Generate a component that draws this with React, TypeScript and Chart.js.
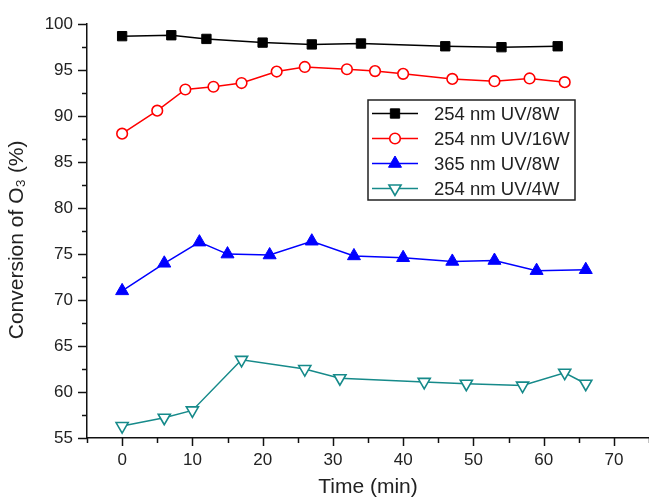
import React, { useEffect, useRef } from "react";
import { Chart, registerables } from "chart.js";

Chart.register(...registerables);

// ---- data ----
const labels = ["254 nm UV/8W", "254 nm UV/16W", "365 nm UV/8W", "254 nm UV/4W"];

const time8W = [0, 7, 12, 20, 27, 34, 46, 54, 62];
const conv8W = [98.7, 98.8, 98.4, 98.0, 97.8, 97.9, 97.6, 97.5, 97.6];

const time16W = [0, 5, 9, 13, 17, 22, 26, 32, 36, 40, 47, 53, 58, 63];
const conv16W = [88.1, 90.6, 92.9, 93.2, 93.6, 94.85, 95.35, 95.1, 94.9, 94.6, 94.05, 93.8, 94.1, 93.7];

const time365 = [0, 6, 11, 15, 21, 27, 33, 40, 47, 53, 59, 66];
const conv365 = [71.0, 74.0, 76.3, 75.0, 74.9, 76.4, 74.8, 74.6, 74.2, 74.3, 73.2, 73.3];

const time4W = [0, 6, 10, 17, 26, 31, 43, 49, 57, 63, 66];
const conv4W = [56.3, 57.2, 58.0, 63.5, 62.5, 61.5, 61.1, 60.9, 60.7, 62.1, 60.9];

const xMin = -5, xMax = 75, xStep = 5;
const yMin = 55, yMax = 100, yStep = 2.5;

const FONT = "'Liberation Sans', Arial, sans-serif";

const pts = (xs: number[], ys: number[]) => xs.map((x, i) => ({ x, y: ys[i] }));

const tickPlugin = {
  id: "minorTicks",
  afterDraw(chart: any) {
    const { ctx, chartArea } = chart;
    const xs = chart.scales.x;
    const ys = chart.scales.y;
    ctx.save();
    ctx.strokeStyle = "#111";
    ctx.lineWidth = 1.5;
    for (let v = xMin; v <= xMax + 1e-9; v += xStep) {
      const px = Math.round(xs.getPixelForValue(v)) + 0.5;
      const len = Math.abs(v % 10) < 1e-9 ? 8 : 5;
      ctx.beginPath();
      ctx.moveTo(px, chartArea.bottom);
      ctx.lineTo(px, chartArea.bottom + len);
      ctx.stroke();
    }
    for (let v = yMin; v <= yMax + 1e-9; v += yStep) {
      const py = Math.round(ys.getPixelForValue(v)) + 0.5;
      const len = Math.abs(v % 5) < 1e-9 ? 9 : 5;
      ctx.beginPath();
      ctx.moveTo(chartArea.left, py);
      ctx.lineTo(chartArea.left - len, py);
      ctx.stroke();
    }
    ctx.restore();
  },
};

function drawMarker(ctx: CanvasRenderingContext2D, style: string, r: number, rotDeg: number, x: number, y: number) {
  ctx.beginPath();
  if (style === "rect") {
    const s = Math.SQRT1_2 * r;
    ctx.rect(x - s, y - s, 2 * s, 2 * s);
  } else if (style === "circle") {
    ctx.arc(x, y, r, 0, Math.PI * 2);
  } else if (style === "triangle") {
    let rad = (rotDeg * Math.PI) / 180;
    ctx.moveTo(x + Math.sin(rad) * r, y - Math.cos(rad) * r);
    rad += (2 * Math.PI) / 3;
    ctx.lineTo(x + Math.sin(rad) * r, y - Math.cos(rad) * r);
    rad += (2 * Math.PI) / 3;
    ctx.lineTo(x + Math.sin(rad) * r, y - Math.cos(rad) * r);
    ctx.closePath();
  }
  ctx.fill();
  ctx.stroke();
}

const legendPlugin = {
  id: "boxLegend",
  afterDraw(chart: any) {
    const { ctx } = chart;
    const left = 368, top = 100, w = 207, h = 100, rowH = 25;
    ctx.save();
    ctx.fillStyle = "#fff";
    ctx.fillRect(left, top, w, h);
    ctx.strokeStyle = "#222";
    ctx.lineWidth = 1.5;
    ctx.strokeRect(left, top, w, h);
    chart.data.datasets.forEach((ds: any, i: number) => {
      const cy = top + 13.5 + i * rowH;
      ctx.strokeStyle = ds.borderColor;
      ctx.lineWidth = ds.borderWidth;
      ctx.beginPath();
      ctx.moveTo(left + 4, cy);
      ctx.lineTo(left + 50, cy);
      ctx.stroke();
      ctx.fillStyle = ds.pointBackgroundColor;
      ctx.strokeStyle = ds.borderColor;
      ctx.lineWidth = ds.pointBorderWidth;
      drawMarker(ctx, ds.pointStyle, ds.pointRadius, ds.pointRotation || 0, left + 27, cy);
      ctx.fillStyle = "#222";
      ctx.font = `18.5px ${FONT}`;
      ctx.textBaseline = "middle";
      ctx.textAlign = "left";
      ctx.fillText(ds.label, left + 66, cy + 1);
    });
    ctx.restore();
  },
};

export default function App() {
  const ref = useRef<HTMLCanvasElement>(null);
  useEffect(() => {
    if (!ref.current) return;
    const chart = new Chart(ref.current, {
      type: "scatter",
      data: {
        datasets: [
          {
            label: labels[0],
            data: pts(time8W, conv8W),
            showLine: true,
            borderColor: "#000000",
            backgroundColor: "#000000",
            pointBackgroundColor: "#000000",
            borderWidth: 1.5,
            pointBorderWidth: 1,
            pointStyle: "rect",
            pointRadius: 6.6,
          },
          {
            label: labels[1],
            data: pts(time16W, conv16W),
            showLine: true,
            borderColor: "#ff0000",
            backgroundColor: "#ffffff",
            pointBackgroundColor: "#ffffff",
            borderWidth: 1.5,
            pointBorderWidth: 1.6,
            pointStyle: "circle",
            pointRadius: 5.3,
          },
          {
            label: labels[2],
            data: pts(time365, conv365),
            showLine: true,
            borderColor: "#0000ff",
            backgroundColor: "#0000ff",
            pointBackgroundColor: "#0000ff",
            borderWidth: 1.5,
            pointBorderWidth: 1,
            pointStyle: "triangle",
            pointRadius: 7.5,
          },
          {
            label: labels[3],
            data: pts(time4W, conv4W),
            showLine: true,
            borderColor: "#168a8a",
            backgroundColor: "#ffffff",
            pointBackgroundColor: "#ffffff",
            borderWidth: 1.5,
            pointBorderWidth: 1.6,
            pointStyle: "triangle",
            pointRotation: 180,
            pointRadius: 7,
          },
        ] as any,
      },
      options: {
        animation: false,
        responsive: true,
        maintainAspectRatio: false,
        layout: { autoPadding: false, padding: { top: 23, left: 0, right: 0, bottom: 0 } },
        plugins: { legend: { display: false }, tooltip: { enabled: false } },
        scales: {
          x: {
            type: "linear",
            min: xMin,
            max: xMax,
            afterFit: (s: any) => { s.height = 59; s.paddingRight = 0; s.paddingLeft = 0; },
            ticks: {
              stepSize: xStep,
              autoSkip: false,
              maxRotation: 0,
              padding: 12,
              color: "#222",
              font: { family: FONT, size: 17 },
              callback: (v: any) => (Math.abs(v % 10) < 1e-9 ? String(v) : ""),
            },
            grid: { display: true, drawOnChartArea: false, drawTicks: false },
            border: { display: true, color: "#111", width: 1.5 },
            title: {
              display: true,
              text: "Time (min)",
              color: "#222",
              font: { family: FONT, size: 21 },
              padding: { top: 0, bottom: -3 },
            },
          },
          y: {
            min: yMin,
            max: yMax,
            afterFit: (s: any) => { s.width = 87; },
            ticks: {
              stepSize: yStep,
              autoSkip: false,
              padding: 14,
              color: "#222",
              font: { family: FONT, size: 17 },
              callback: (v: any) => (Math.abs(v % 5) < 1e-9 ? String(v) : ""),
            },
            grid: { display: true, drawOnChartArea: false, drawTicks: false },
            border: { display: true, color: "#111", width: 1.5 },
            title: {
              display: true,
              text: "Conversion of O₃ (%)   ",
              color: "#222",
              font: { family: FONT, size: 21 },
              padding: { top: 5, bottom: 0 },
            },
          },
        },
      } as any,
      plugins: [tickPlugin, legendPlugin],
    });
    return () => chart.destroy();
  }, []);
  return (
    <div style={{ position: "absolute", left: 0, top: 0, width: 649, height: 497, background: "#fff", overflow: "hidden" }}>
      <canvas ref={ref} style={{ display: "block" }} />
    </div>
  );
}
